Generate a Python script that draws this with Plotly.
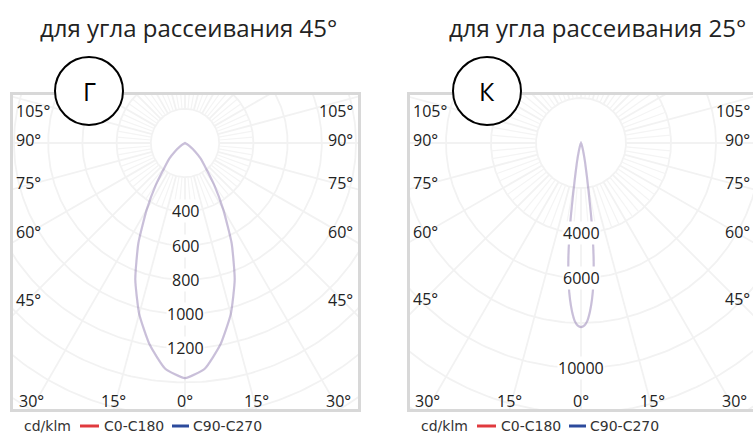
import numpy as np
import plotly.graph_objects as go

# ---------------- data (cd/klm) ----------------
angles_45 = [0, 5, 10, 15, 20, 25, 30, 35, 40, 45, 50, 55, 60, 65, 70, 80, 90]
c0_c180_45 = [1375, 1325, 1195, 1035, 850, 645, 445, 295, 185, 130, 75, 35, 12, 0, 0, 0, 0]
c90_c270_45 = [1375, 1325, 1195, 1035, 850, 645, 445, 295, 185, 130, 75, 35, 12, 0, 0, 0, 0]

angles_25 = [0, 1, 2, 3, 4, 5, 6, 7, 8, 9, 10, 12, 15, 20, 25, 30, 35, 90]
c0_c180_25 = [8180, 8120, 7920, 7520, 6980, 6300, 5400, 4330, 3150, 2100, 1500, 850, 380, 120, 40, 10, 0, 0]
c90_c270_25 = [8180, 8120, 7920, 7520, 6980, 6300, 5400, 4330, 3150, 2100, 1500, 850, 380, 120, 40, 10, 0, 0]

rings_45 = [200, 400, 600, 800, 1000, 1200, 1400, 1600, 1800, 2000]
ring_labels_45 = [400, 600, 800, 1000, 1200]
rings_25 = [2000, 4000, 6000, 8000, 10000, 12000, 14000, 16000]
ring_labels_25 = [4000, 6000, 10000]

side_angle_labels = [45, 60, 75, 90, 105]
bottom_angle_labels = [-30, -15, 0, 15, 30]

titles = ["для угла рассеивания 45°", "для угла рассеивания 25°"]
letters = ["Г", "К"]
series_names = ["C0-C180", "C90-C270"]
legend_colors = ["#e03a3e", "#2c4a9c"]
unit_label = "cd/klm"

# ---------------- layout geometry (pixels) ----------------
W, H = 753, 436
FONT = "Open Sans"
LFONT = "DejaVu Sans"
TXT = "#222222"
GRID = "#f2f2f2"

panels = [
    dict(left=13, right=358, top=95, bottom=409, cx=185, cy=143, scale=0.171,
         angles=angles_45, series=[c0_c180_45, c90_c270_45], rings=rings_45,
         ring_labels=ring_labels_45, title_x=188, letter_x=89, legend_x=22),
    dict(left=410, right=755, top=95, bottom=409, cx=581, cy=143, scale=0.0225,
         angles=angles_25, series=[c0_c180_25, c90_c270_25], rings=rings_25,
         ring_labels=ring_labels_25, title_x=597, letter_x=487, legend_x=419),
]

fig = go.Figure()
annotations = []
shapes = []
layout_axes = {}

curve_colors = ["rgba(205,60,80,0.07)", "rgba(80,80,165,0.30)"]


def pxx(v):
    return v / W


def pxy(v):
    return 1 - v / H


for i, p in enumerate(panels):
    n = "" if i == 0 else str(i + 1)
    xa, ya = "x" + n, "y" + n
    s = p["scale"]
    right = min(p["right"], W)
    xmin = -(p["cx"] - p["left"]) / s
    xmax = (right - p["cx"]) / s
    ymax = (p["cy"] - p["top"]) / s
    ymin = -(p["bottom"] - p["cy"]) / s

    # grid rings and spokes
    gx, gy = [], []
    t = np.linspace(0, 2 * np.pi, 361)
    for r in p["rings"]:
        gx += list(r * np.sin(t)) + [None]
        gy += list(r * np.cos(t)) + [None]
    r1, r2, rbig = p["rings"][0], p["rings"][1], p["rings"][-1] * 1.5
    mx, my = [], []
    for a in range(0, 360, 5):
        ar = np.radians(a)
        if a % 15 == 0:
            gx += [r1 * np.sin(ar), rbig * np.sin(ar), None]
            gy += [-r1 * np.cos(ar), -rbig * np.cos(ar), None]
        else:
            mx += [r1 * np.sin(ar), r2 * np.sin(ar), None]
            my += [-r1 * np.cos(ar), -r2 * np.cos(ar), None]
    fig.add_trace(go.Scatter(x=gx, y=gy, mode="lines", line=dict(color=GRID, width=1.8),
                             hoverinfo="skip", showlegend=False, xaxis=xa, yaxis=ya))
    fig.add_trace(go.Scatter(x=mx, y=my, mode="lines", line=dict(color="#f4f4f4", width=1.2),
                             hoverinfo="skip", showlegend=False, xaxis=xa, yaxis=ya))

    # photometric curves (C90 first, C0 on top)
    for k in [1, 0]:
        ang = np.array(p["angles"], dtype=float)
        val = np.array(p["series"][k], dtype=float)
        th = np.radians(np.concatenate([-ang[::-1], ang[1:]]))
        rr = np.concatenate([val[::-1], val[1:]])
        fig.add_trace(go.Scatter(x=rr * np.sin(th), y=-rr * np.cos(th), mode="lines",
                                 line=dict(color=curve_colors[k], width=2.2, shape="spline", smoothing=0.5),
                                 name=series_names[k], showlegend=False, hoverinfo="skip",
                                 xaxis=xa, yaxis=ya))

    # axes (box)
    dom_x = [p["left"] / W, right / W]
    dom_y = [1 - p["bottom"] / H, 1 - p["top"] / H]
    axcommon = dict(showgrid=False, zeroline=False, showticklabels=False, ticks="",
                    showline=True, mirror=True, linecolor="#d8d8d8", linewidth=3, fixedrange=True)
    layout_axes["xaxis" + n] = dict(domain=dom_x, range=[xmin, xmax], anchor=ya, **axcommon)
    layout_axes["yaxis" + n] = dict(domain=dom_y, range=[ymin, ymax], anchor=xa, **axcommon)

    # intensity labels
    for v in p["ring_labels"]:
        annotations.append(dict(x=0, y=-v, xref=xa, yref=ya, text=str(v), showarrow=False,
                                font=dict(family=FONT, size=16, color=TXT), bgcolor="white",
                                borderpad=0, xanchor="center", yanchor="middle"))

    # side angle labels
    xl = xmin + 12 / s
    for a in side_angle_labels:
        ar = np.radians(a)
        yv = xl * np.cos(ar) / np.sin(ar)
        yv = min(yv, ymax - 19 / s)
        lbl = f"{a}°"
        annotations.append(dict(x=xmin, y=yv, xref=xa, yref=ya, text=lbl, showarrow=False,
                                xanchor="left", yanchor="middle", xshift=1, yshift=3,
                                font=dict(family=FONT, size=16, color=TXT)))
        annotations.append(dict(x=xmax, y=yv, xref=xa, yref=ya, text=lbl, showarrow=False,
                                xanchor="right", yanchor="middle", xshift=-3 if p["right"] <= W else -1,
                                yshift=3, font=dict(family=FONT, size=16, color=TXT)))
    for a in bottom_angle_labels:
        ar = np.radians(a)
        xv = -ymin * np.tan(ar)
        annotations.append(dict(x=xv, y=ymin, xref=xa, yref=ya, text=f"{abs(a)}°", showarrow=False,
                                xanchor="center", yanchor="bottom", yshift=-5,
                                font=dict(family=FONT, size=16, color=TXT)))

    # title
    annotations.append(dict(x=pxx(p["title_x"]), y=pxy(27), xref="paper", yref="paper",
                            text=titles[i], showarrow=False, xanchor="center", yanchor="middle",
                            font=dict(family=FONT, size=24, color=TXT)))
    # letter badge
    cxl, cyl, rl = p["letter_x"], 91, 34
    shapes.append(dict(type="circle", xref="paper", yref="paper",
                       x0=pxx(cxl - rl), x1=pxx(cxl + rl), y0=pxy(cyl + rl), y1=pxy(cyl - rl),
                       line=dict(color="black", width=2), fillcolor="white", layer="above"))
    annotations.append(dict(x=pxx(cxl), y=pxy(cyl), xref="paper", yref="paper", text=letters[i],
                            showarrow=False, xanchor="center", yanchor="middle",
                            font=dict(family=FONT, size=25, color="black")))

    # legend row: unit, then a line swatch and name per series
    lx, ly = p["legend_x"], 426
    lfont = dict(family=LFONT, size=14, color="#333333")
    annotations.append(dict(x=pxx(lx), y=pxy(ly), xref="paper", yref="paper", text=unit_label,
                            showarrow=False, xanchor="left", yanchor="middle", font=lfont))
    swatches = [(58, 19, 80), (150, 17, 169)]
    for k in range(2):
        sx0, sw, tx = lx + swatches[k][0], swatches[k][1], lx + swatches[k][2]
        shapes.append(dict(type="line", xref="paper", yref="paper", x0=pxx(sx0), x1=pxx(sx0 + sw),
                           y0=pxy(ly), y1=pxy(ly), line=dict(color=legend_colors[k], width=3)))
        annotations.append(dict(x=pxx(tx), y=pxy(ly), xref="paper", yref="paper",
                                text=series_names[k], showarrow=False, xanchor="left",
                                yanchor="middle", font=lfont))

fig.update_layout(
    width=W, height=H, margin=dict(l=0, r=0, t=0, b=0, autoexpand=False),
    paper_bgcolor="white", plot_bgcolor="white", showlegend=False,
    annotations=annotations, shapes=shapes,
    **layout_axes,
)

fig.write_html("out.html", config={"displayModeBar": False},
               post_script="document.body.style.margin='0';document.body.style.overflow='hidden';")
